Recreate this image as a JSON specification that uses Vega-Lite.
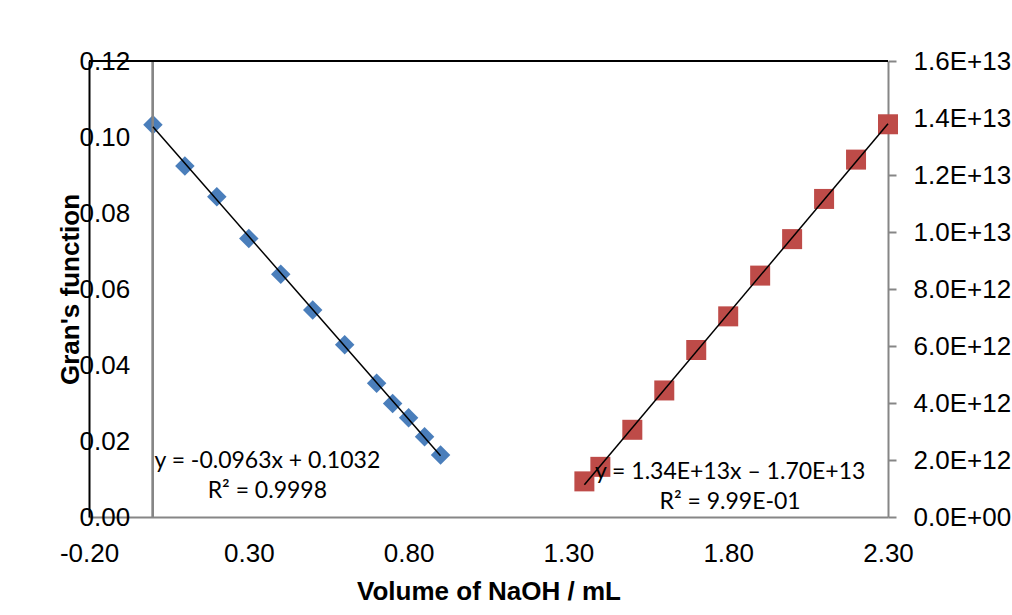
{
  "$schema": "https://vega.github.io/schema/vega-lite/v6.json",
  "width": 799,
  "height": 456,
  "autosize": {"type": "none"},
  "padding": {"left": 89, "top": 61, "right": 124, "bottom": 98},
  "background": "white",
  "config": {"view": {"stroke": null}, "font": "Liberation Sans"},
  "datasets": {
    "acid": [
      {"v": 0, "g": 0.1032},
      {"v": 0.1, "g": 0.0924},
      {"v": 0.2, "g": 0.0843},
      {"v": 0.3, "g": 0.0733},
      {"v": 0.4, "g": 0.0639},
      {"v": 0.5, "g": 0.0545},
      {"v": 0.6, "g": 0.0453},
      {"v": 0.7, "g": 0.0352},
      {"v": 0.75, "g": 0.0299},
      {"v": 0.8, "g": 0.0261},
      {"v": 0.85, "g": 0.0211},
      {"v": 0.9, "g": 0.0163}
    ],
    "base": [
      {"v": 1.35, "g": 1.25e12},
      {"v": 1.4, "g": 1.76e12},
      {"v": 1.5, "g": 3.06e12},
      {"v": 1.6, "g": 4.44e12},
      {"v": 1.7, "g": 5.86e12},
      {"v": 1.8, "g": 7.04e12},
      {"v": 1.9, "g": 8.47e12},
      {"v": 2.0, "g": 9.75e12},
      {"v": 2.1, "g": 1.116e13},
      {"v": 2.2, "g": 1.254e13},
      {"v": 2.3, "g": 1.378e13}
    ]
  },
  "layer": [
    {
      "data": {"name": "acid"},
      "layer": [
        {
          "mark": {"type": "point", "shape": "diamond", "filled": true, "size": 380, "color": "#4A7EBB", "opacity": 1},
          "encoding": {
            "x": {
              "field": "v", "type": "quantitative",
              "scale": {"domain": [-0.2, 2.3], "nice": false, "zero": false},
              "axis": {
                "values": [-0.2, 0.3, 0.8, 1.3, 1.8, 2.3],
                "labelExpr": "(datum.value < 0 ? '-' : '') + format(abs(datum.value), '.2f')",
                "ticks": false, "tickSize": 0, "grid": false,
                "domainColor": "#868686", "domainWidth": 2,
                "labelFont": "Liberation Sans", "labelFontSize": 26, "labelColor": "#000", "labelPadding": 23,
                "labelFlush": false, "labelOverlap": false,
                "title": "Volume of NaOH / mL", "titleFont": "Liberation Sans", "titleFontSize": 26,
                "titleFontWeight": "bold", "titleColor": "#000", "titlePadding": 12
              }
            },
            "y": {
              "field": "g", "type": "quantitative",
              "scale": {"domain": [0, 0.12], "nice": false, "zero": false},
              "axis": {
                "orient": "left",
                "values": [0, 0.02, 0.04, 0.06, 0.08, 0.1, 0.12],
                "format": ".2f",
                "ticks": false, "tickSize": 0, "grid": false,
                "domainColor": "#000", "domainWidth": 2,
                "labelAlign": "left", "labelPadding": 10,
                "labelFont": "Liberation Sans", "labelFontSize": 26, "labelColor": "#000",
                "labelFlush": false, "labelOverlap": false,
                "title": "Gran's function", "titleFont": "Liberation Sans", "titleFontSize": 26,
                "titleFontWeight": "bold", "titleColor": "#000", "titleX": -6, "titleY": 228
              }
            }
          }
        },
        {
          "mark": {"type": "rule", "color": "#868686", "strokeWidth": 2},
          "encoding": {"x": {"datum": 0, "type": "quantitative"}}
        },
        {
          "mark": {"type": "rule", "color": "#000", "strokeWidth": 2},
          "encoding": {"y": {"datum": 0.12, "type": "quantitative"}}
        },
        {
          "transform": [{"regression": "g", "on": "v"}],
          "mark": {"type": "line", "color": "#000", "strokeWidth": 1.5},
          "encoding": {
            "x": {"field": "v", "type": "quantitative"},
            "y": {"field": "g", "type": "quantitative"}
          }
        },
        {
          "data": {"values": [{"label": ["y = -0.0963x + 0.1032", "R² = 0.9998"]}]},
          "mark": {"type": "text", "font": "Lato", "fontSize": 23, "lineHeight": 30, "align": "center", "baseline": "middle", "color": "#000"},
          "encoding": {
            "x": {"datum": 0.358, "type": "quantitative"},
            "y": {"datum": 0.0147, "type": "quantitative"},
            "text": {"field": "label"}
          }
        }
      ]
    },
    {
      "data": {"name": "base"},
      "layer": [
        {
          "mark": {"type": "point", "shape": "square", "filled": true, "size": 400, "color": "#BE4B48", "opacity": 1},
          "encoding": {
            "x": {"field": "v", "type": "quantitative"},
            "y": {
              "field": "g", "type": "quantitative",
              "scale": {"domain": [0, 1.6e13], "nice": false, "zero": false},
              "axis": {
                "orient": "right",
                "values": [0, 2e12, 4e12, 6e12, 8e12, 1e13, 1.2e13, 1.4e13, 1.6e13],
                "labelExpr": "datum.value == 0 ? '0.0E+00' : upper(format(datum.value, '.1e'))",
                "ticks": true, "tickSize": 8, "tickColor": "#868686", "tickWidth": 2, "grid": false,
                "domainColor": "#868686", "domainWidth": 2,
                "labelPadding": 17,
                "labelFont": "Liberation Sans", "labelFontSize": 26, "labelColor": "#000",
                "labelFlush": false, "labelOverlap": false,
                "title": null
              }
            }
          }
        },
        {
          "transform": [{"regression": "g", "on": "v"}],
          "mark": {"type": "line", "color": "#000", "strokeWidth": 1.5},
          "encoding": {
            "x": {"field": "v", "type": "quantitative"},
            "y": {"field": "g", "type": "quantitative"}
          }
        },
        {
          "data": {"values": [{"label": ["y = 1.34E+13x – 1.70E+13", "R² = 9.99E-01"]}]},
          "mark": {"type": "text", "font": "Lato", "fontSize": 23, "lineHeight": 30, "align": "center", "baseline": "middle", "color": "#000"},
          "encoding": {
            "x": {"datum": 1.806, "type": "quantitative"},
            "y": {"datum": 1.58e12, "type": "quantitative"},
            "text": {"field": "label"}
          }
        }
      ]
    }
  ],
  "resolve": {"scale": {"y": "independent"}}
}
